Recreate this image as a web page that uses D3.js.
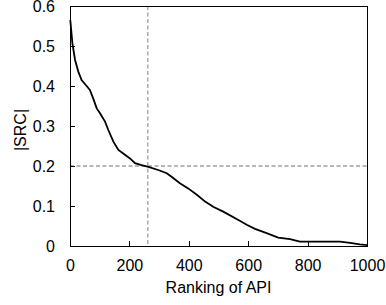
<!DOCTYPE html>
<meta charset="utf-8">
<style>
body {
    margin: 0;
    background: white;
    font-family: "Liberation Sans", Arial, sans-serif;
}

.axis text {
    font: 16px "Liberation Sans", Arial, sans-serif;
    fill: #000;
}

.axis path,
.axis line {
    fill: none;
    stroke: #000;
    shape-rendering: crispEdges;
}

.ref {
    stroke: #a0a0a0;
    stroke-width: 1.3px;
    stroke-dasharray: 4, 2.5;
}

.line {
    fill: none;
    stroke: #000;
    stroke-width: 1.8px;
}
</style>

<body>
    <script src="https://d3js.org/d3.v7.min.js"></script>
    <script>
    // data
    var ranks = [1, 8, 17, 28, 39, 56, 67, 78, 90, 101, 118, 129, 146, 163, 185, 202, 219, 241, 264, 297, 326, 342, 370, 398, 427, 455, 482, 516, 567, 595, 623, 662, 701, 741, 774, 842, 909, 943, 976, 1000];
    var srcValues = [0.565, 0.507, 0.465, 0.436, 0.415, 0.40, 0.39, 0.369, 0.344, 0.332, 0.311, 0.29, 0.261, 0.24, 0.228, 0.219, 0.207, 0.202, 0.198, 0.19, 0.182, 0.173, 0.157, 0.144, 0.128, 0.111, 0.098, 0.086, 0.065, 0.053, 0.043, 0.032, 0.021, 0.017, 0.011, 0.011, 0.011, 0.008, 0.004, 0.002];
    var xTicks = [0, 200, 400, 600, 800, 1000];
    var yTicks = [0, 0.1, 0.2, 0.3, 0.4, 0.5, 0.6];
    var cutRank = 262;
    var cutSrc = 0.2;

    // canvas size
    var margin = { top: 6, right: 19, bottom: 59, left: 70 },
        width = 386 - margin.left - margin.right,
        height = 305 - margin.top - margin.bottom;

    var x = d3.scaleLinear().domain([0, 1000]).range([0, width]);
    var y = d3.scaleLinear().domain([0, 0.6]).range([height, 0]);

    var svg = d3.select("body")
        .append("svg")
        .attr("width", 386)
        .attr("height", 305)
        .append("g")
        .attr("transform", "translate(" + margin.left + "," + margin.top + ")");

    // reference lines
    svg.append("line")
        .attr("class", "ref")
        .attr("x1", x(cutRank)).attr("x2", x(cutRank))
        .attr("y1", 0).attr("y2", height);
    svg.append("line")
        .attr("class", "ref")
        .attr("x1", 0).attr("x2", width)
        .attr("y1", y(cutSrc)).attr("y2", y(cutSrc));

    // frame
    svg.append("rect")
        .attr("width", width)
        .attr("height", height)
        .attr("fill", "none")
        .attr("stroke", "#000")
        .attr("shape-rendering", "crispEdges");

    // x axis
    svg.append("g")
        .attr("class", "x axis")
        .attr("transform", "translate(0," + height + ")")
        .call(d3.axisBottom(x).tickValues(xTicks).tickSize(-5).tickPadding(14).tickFormat(d3.format("d")))
        .select(".domain").remove();

    // y axis
    svg.append("g")
        .attr("class", "y axis")
        .call(d3.axisLeft(y).tickValues(yTicks).tickSize(-5).tickPadding(15).tickFormat(function(d) { return d === 0 ? "0" : d3.format(".1f")(d); }))
        .select(".domain").remove();

    // line
    var data = ranks.map(function(r, i) { return { r: r, v: srcValues[i] }; });
    svg.append("path")
        .datum(data)
        .attr("class", "line")
        .attr("d", d3.line()
            .x(function(d) { return x(d.r); })
            .y(function(d) { return y(d.v); }));

    // axis titles
    svg.append("text")
        .attr("x", width / 2)
        .attr("y", height + 47)
        .attr("text-anchor", "middle")
        .style("font-size", "16px")
        .text("Ranking of API");

    svg.append("text")
        .attr("transform", "rotate(-90)")
        .attr("x", -(height / 2) - 4)
        .attr("y", 26 - margin.left)
        .attr("text-anchor", "middle")
        .style("font-size", "16px")
        .text("|SRC|");
    </script>
</body>
